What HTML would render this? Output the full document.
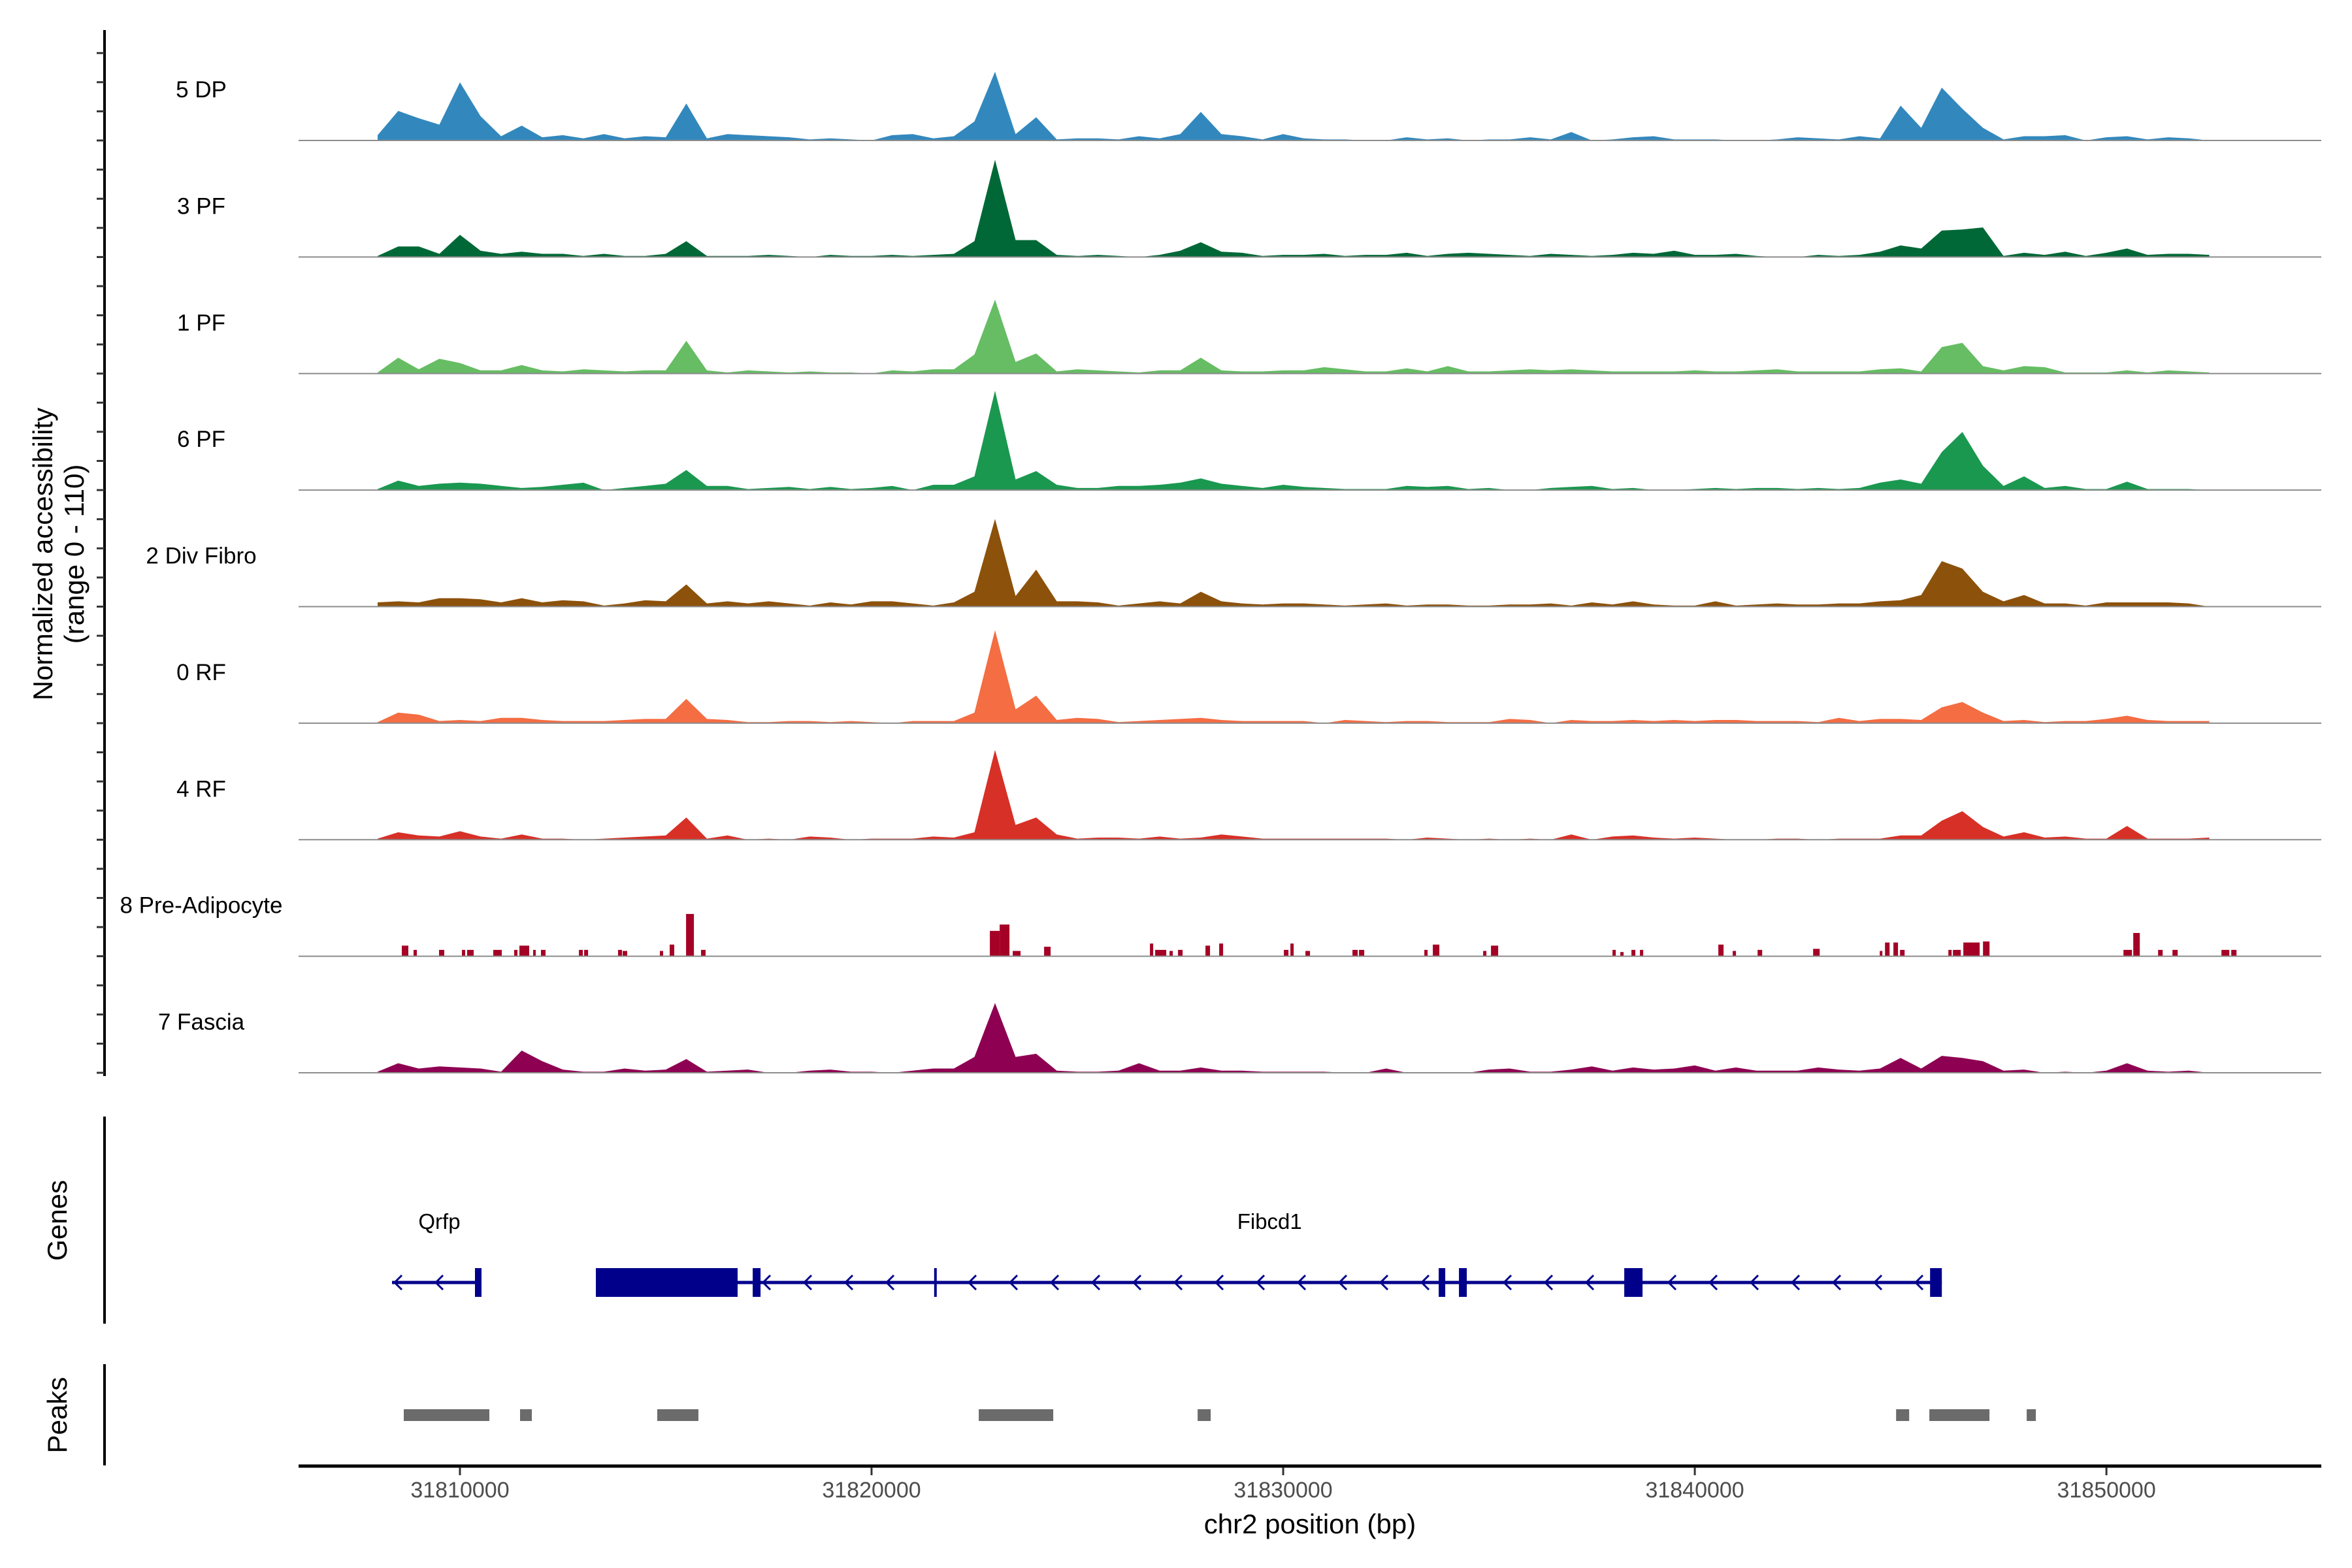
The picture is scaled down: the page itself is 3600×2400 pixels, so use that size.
<!DOCTYPE html>
<html><head><meta charset="utf-8"><style>
html,body{margin:0;padding:0;background:#fff;}
svg{display:block;font-family:"Liberation Sans",sans-serif;}
</style></head><body>
<svg id="chart" xmlns="http://www.w3.org/2000/svg" width="3600" height="2400" viewBox="0 0 3600 2400">
<rect x="0" y="0" width="3600" height="2400" fill="#fff"/>
<g id="tracks"></g>
<g id="yaxis"></g>
<text transform="translate(80,848) rotate(-90)" text-anchor="middle" font-size="42">Normalized accessibility</text>
<text transform="translate(128,848) rotate(-90)" text-anchor="middle" font-size="42">(range 0 - 110)</text>
<g id="genes"></g>
<line x1="160" y1="1709" x2="160" y2="2026" stroke="#000" stroke-width="4"/>
<text transform="translate(102,1868) rotate(-90)" text-anchor="middle" font-size="42">Genes</text>
<g id="peaks"></g>
<line x1="160" y1="2088" x2="160" y2="2243" stroke="#000" stroke-width="4"/>
<text transform="translate(102,2166) rotate(-90)" text-anchor="middle" font-size="42">Peaks</text>
<g id="xaxis"></g>
<text x="2005" y="2347" text-anchor="middle" font-size="42">chr2 position (bp)</text>
</svg>
<script>
const trackNames = ["5 DP","3 PF","1 PF","6 PF","2 Div Fibro","0 RF","4 RF","8 Pre-Adipocyte","7 Fascia"];
const trackColors = ["#3288bd","#006837","#66bd63","#1a9850","#8c510a","#f46d43","#d73027","#a50026","#8e0152"];
const binStart = 31807750;
const binSize = 500;
const dp5 = [5,28,21,15,55,23,4,14,3,5, 2,6,2,4,3,35,2,6,5,4, 3,1,2,1,0,5,6,2,4,18, 65,6,22,1,2,2,1,4,2,6, 27,6,4,1,6,2,1,1,0,0, 3,1,2,0,1,1,3,1,8,0, 1,3,4,1,1,1,0,0,1,3, 2,1,4,2,33,12,50,30,12,1, 4,4,5,0,3,4,1,3,2,0];
const pf3 = [1,10,10,3,21,6,3,5,3,3, 1,3,1,1,3,15,1,1,1,2, 1,0,2,1,1,2,1,2,3,15, 92,16,16,2,1,2,1,0,2,6, 14,5,4,1,2,2,3,1,2,2, 4,1,3,4,3,2,1,3,2,1, 2,4,3,6,2,2,3,1,0,0, 2,1,2,5,11,8,25,26,28,1, 4,2,5,1,4,8,2,3,3,2];
const pf1 = [1,15,4,14,10,3,3,8,3,2, 4,3,2,3,3,31,3,1,3,2, 1,2,1,1,0,3,2,4,4,18, 70,11,19,2,4,3,2,1,3,3, 15,3,2,2,3,3,6,4,2,2, 5,2,7,2,2,3,4,3,4,3, 2,2,2,2,3,2,2,3,4,2, 2,2,2,4,5,2,25,29,7,3, 7,6,1,1,1,3,1,3,2,1];
const pf6 = [1,9,4,6,7,6,4,2,3,5, 7,0,2,4,6,19,4,4,1,2, 3,1,3,1,2,4,0,5,5,13, 94,10,18,5,2,2,4,4,5,7, 11,6,4,2,5,3,2,1,1,1, 4,3,4,1,2,0,0,2,3,4, 1,2,0,0,1,2,1,2,2,1, 2,1,2,7,10,6,36,55,23,4, 13,2,4,1,1,8,1,1,1,0];
const divFibro2 = [4,5,4,8,8,7,4,8,4,6, 5,1,3,6,5,21,3,5,3,5, 3,1,4,2,5,5,3,1,4,14, 83,10,35,5,5,4,1,3,5,3, 14,5,3,2,3,3,2,1,2,3, 1,2,2,1,1,2,2,3,1,4, 2,5,2,1,1,5,1,2,3,2, 2,3,3,5,6,11,43,36,14,5, 11,3,3,1,4,4,4,4,3,0];
const rf0 = [1,10,8,2,3,2,5,5,3,2, 2,2,3,4,4,23,4,3,1,1, 2,2,1,2,1,0,2,2,2,10, 88,13,26,3,5,4,1,2,3,4, 5,3,2,2,2,2,0,3,2,1, 2,2,1,1,1,4,3,0,3,2, 2,3,2,3,2,3,3,2,2,2, 1,5,2,4,4,3,15,20,10,2, 3,1,2,2,4,7,3,2,2,2];
const rf4 = [1,7,4,3,8,3,1,5,1,1, 0,1,2,3,4,21,1,4,0,1, 0,3,2,0,1,1,1,3,2,7, 85,14,21,5,1,2,2,1,3,1, 2,5,3,1,1,1,1,1,1,1, 0,2,1,0,1,0,1,0,5,0, 3,4,2,1,2,1,0,0,1,1, 0,1,1,1,4,4,18,27,12,3, 7,2,3,1,1,13,1,1,1,2];
const fascia7 = [1,9,4,6,5,4,1,21,11,3, 1,1,4,2,3,13,1,2,3,0, 0,2,3,1,1,0,2,4,4,15, 66,15,18,2,1,1,2,9,2,2, 5,2,2,1,1,1,1,0,0,4, 0,0,0,0,3,4,1,1,3,6, 2,5,3,4,7,2,5,2,2,2, 5,3,2,4,14,4,16,14,11,2, 3,0,1,0,2,9,2,1,2,0];
const preStart = [31808588,31808874,31809493,31810048,31810175,31810810,31811318,31811445,31811778,31811969,31812890,31813017,31813842,31813953,31814858,31815096,31815493,31815858,31822874,31823112,31823429,31824191,31826763,31826890,31827239,31827445,31828112,31828445,31830017,31830175,31830540,31831683,31831842,31833429,31833636,31834858,31835048,31838001,31838191,31838461,31838667,31840572,31840921,31841525,31842874,31844493,31844620,31844826,31844985,31846160,31846271,31846524,31847001,31850414,31850652,31851255,31851604,31852795,31853033];
const preEnd = [31808747,31808953,31809620,31810128,31810334,31811017,31811397,31811683,31811842,31812080,31812985,31813112,31813937,31814064,31814937,31815207,31815683,31815969,31823112,31823350,31823620,31824350,31826842,31827160,31827318,31827556,31828223,31828540,31830128,31830255,31830651,31831810,31831969,31833509,31833794,31834937,31835223,31838080,31838271,31838556,31838747,31840699,31841001,31841636,31843033,31844556,31844731,31844937,31845096,31846239,31846461,31846921,31847160,31850620,31850810,31851366,31851731,31852985,31853160];
const preVal = [10,6,6,6,6,6,6,10,6,6,6,6,6,5,5,11,40,6,24,30,5,9,12,6,5,6,10,12,6,12,5,6,6,6,11,5,10,6,4,6,6,11,5,6,7,5,13,13,6,6,6,13,14,6,22,6,6,6,6];
const trackData = [dp5,pf3,pf1,pf6,divFibro2,rf0,rf4,null,fascia7];
const xTicks = [31810000,31820000,31830000,31840000,31850000];
const xTickLabels = ["31810000","31820000","31830000","31840000","31850000"];
const peakStart = [31808636,31811461,31814794,31822604,31827921,31844890,31845699,31848064];
const peakEnd = [31810715,31811747,31815794,31824413,31828239,31845207,31847159,31848286];
const geneNames = ["Qrfp","Fibcd1"];
const geneLabelPos = [31809500,31829670];
const geneLineStart = [31808350,31813302];
const geneLineEnd = [31810524,31846001];
const exonStart = [31810365,31813302,31817112,31821520,31833778,31834270,31838286,31845715];
const exonEnd = [31810524,31816747,31817302,31821570,31833937,31834460,31838731,31846001];

const NS = "http://www.w3.org/2000/svg";
const X0 = 457, X1 = 3553, BP0 = 31806080, BP1 = 31855220;
function xScale(bp){ return X0 + (bp - BP0) * (X1 - X0) / (BP1 - BP0); }
const trackTop = 215, trackStep = 178.375, trackH = 178, yMax = 110;
function baseY(k){ return trackTop + k * trackStep; }
function yScale(k, v){ return baseY(k) - v * trackH / yMax; }
function mk(tag, attrs, parent){ const e = document.createElementNS(NS, tag); for (const a in attrs) e.setAttribute(a, attrs[a]); parent.appendChild(e); return e; }

const tracks = document.getElementById('tracks');
trackNames.forEach((name, k) => {
  const g = mk('g', {}, tracks);
  
  
  const data = trackData[k];
  if (data) {
    let d = 'M' + xScale(binStart + binSize * 0.5).toFixed(1) + ',' + baseY(k).toFixed(1);
    data.forEach((v, i) => {
      d += ' L' + xScale(binStart + binSize * (i + 0.5)).toFixed(1) + ',' + yScale(k, v).toFixed(1);
    });
    d += ' L' + xScale(binStart + binSize * (data.length - 0.5)).toFixed(1) + ',' + baseY(k).toFixed(1) + ' Z';
    const p = mk('path', {d: d, fill: trackColors[k]}, g);
    
    
  } else {
    preStart.forEach((s, i) => {
      const x = xScale(s), w = Math.max(3, xScale(preEnd[i]) - x);
      const r = mk('rect', {x: x.toFixed(1), y: yScale(k, preVal[i]).toFixed(1), width: w.toFixed(1), height: (baseY(k) - yScale(k, preVal[i])).toFixed(1), fill: trackColors[k]}, g);
      
      
    });
  }
  const bl = mk('line', {x1: X0, x2: X1, y1: baseY(k), y2: baseY(k), stroke: '#8c8c8c', 'stroke-width': 2}, g);
  
  
  const t = mk('text', {x: 308, y: baseY(k) - 66, 'text-anchor': 'middle', 'font-size': 35}, g);
  
  
  t.textContent = name;
});

const yaxis = document.getElementById('yaxis');
const yl = mk('line', {x1: 160, x2: 160, y1: 46, y2: 1647, stroke: '#000', 'stroke-width': 4}, yaxis);


for (let y = baseY(8); y > 60; y -= trackStep / 4) {
  const tk = mk('line', {x1: 148, x2: 160, y1: y.toFixed(1), y2: y.toFixed(1), stroke: '#333', 'stroke-width': 3}, yaxis);
  
  
}

const genes = document.getElementById('genes');
const GY = 1963, EH = 44, GC = '#00008b';
geneNames.forEach((n, i) => {
  const x1 = xScale(geneLineStart[i]), x2 = xScale(geneLineEnd[i]);
  const l = mk('line', {x1: x1, x2: x2, y1: GY, y2: GY, stroke: GC, 'stroke-width': 5}, genes);
  
  
  for (let x = x1 + 4; x < x2 - 8; x += 63) {
    const inside = exonStart.some((s, j) => x > xScale(s) - 14 && x < xScale(exonEnd[j]) + 2);
    if (inside) continue;
    const c = mk('polyline', {points: (x + 11) + ',' + (GY - 11) + ' ' + x + ',' + GY + ' ' + (x + 11) + ',' + (GY + 11), fill: 'none', stroke: GC, 'stroke-width': 3}, genes);
    
    
  }
  const t = mk('text', {x: xScale(geneLabelPos[i]), y: 1881, 'text-anchor': 'middle', 'font-size': 33}, genes);
  
  
  t.textContent = n;
});
exonStart.forEach((s, i) => {
  const x = xScale(s), w = Math.max(4, xScale(exonEnd[i]) - x);
  const r = mk('rect', {x: x.toFixed(1), y: GY - EH / 2, width: w.toFixed(1), height: EH, fill: GC}, genes);
  
  
});

const peaks = document.getElementById('peaks');
peakStart.forEach((s, i) => {
  const x = xScale(s), w = xScale(peakEnd[i]) - x;
  const r = mk('rect', {x: x.toFixed(1), y: 2157, width: w.toFixed(1), height: 18, fill: '#6b6b6b'}, peaks);
  
  
});

const xaxis = document.getElementById('xaxis');
const xl = mk('line', {x1: X0, x2: X1, y1: 2244, y2: 2244, stroke: '#000', 'stroke-width': 5}, xaxis);


xTicks.forEach((bp, i) => {
  const x = xScale(bp);
  const tk = mk('line', {x1: x, x2: x, y1: 2246, y2: 2258, stroke: '#333', 'stroke-width': 3}, xaxis);
  
  
  const t = mk('text', {x: x, y: 2292, 'text-anchor': 'middle', 'font-size': 34, fill: '#4d4d4d'}, xaxis);
  
  
  t.textContent = xTickLabels[i];
});
</script>
</body></html>
